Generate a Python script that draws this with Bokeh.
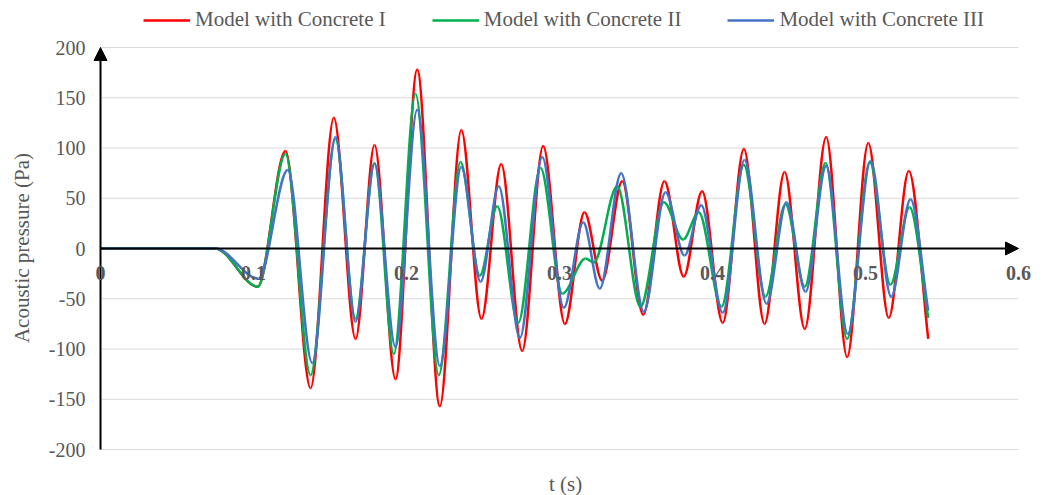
from bokeh.plotting import figure
from bokeh.models import (Range1d, FixedTicker, Legend, LegendItem, Arrow, NormalHead,
                          ColumnDataSource, LabelSet, Label)
from bokeh.embed import file_html
from bokeh.resources import INLINE

# ---------------- data ----------------
t_c1 = [0.0, 0.075, 0.1028, 0.1209, 0.1373, 0.1525, 0.1667, 0.1791, 0.1928, 0.2070,
        0.2218, 0.2358, 0.2490, 0.2619, 0.2756, 0.2893, 0.3035, 0.3163, 0.3279, 0.3410,
        0.3547, 0.3686, 0.3812, 0.3932, 0.4067, 0.4205, 0.4340, 0.4471, 0.4603, 0.4743,
        0.4880, 0.5018, 0.5152, 0.5283, 0.5410]
p_c1 = [0, 0, -38, 97, -139, 130, -90, 103, -130, 178,
        -157, 118, -70, 84, -102, 102, -75, 36, -32, 67,
        -66, 67, -28, 57, -74, 99, -75, 76, -80, 111,
        -108, 105, -69, 77, -90]

t_c2 = [0.0, 0.075, 0.1028, 0.1209, 0.1373, 0.1536, 0.1667, 0.1791, 0.1917, 0.2059,
        0.2211, 0.2353, 0.2479, 0.2593, 0.2730, 0.2876, 0.3018, 0.3170, 0.3224, 0.3377,
        0.3529, 0.3682, 0.3808, 0.3910, 0.4059, 0.4205, 0.4346, 0.4477, 0.4603, 0.4739,
        0.4880, 0.5028, 0.5163, 0.5288, 0.5410]
p_c2 = [0, 0, -38, 94, -126, 109, -70, 85, -105, 154,
        -126, 86, -27, 42, -74, 80, -45, -10, -14, 62,
        -58, 46, 9, 36, -58, 83, -48, 44, -38, 85,
        -90, 86, -36, 41, -69]

t_c3 = [0.0, 0.075, 0.1033, 0.1224, 0.1384, 0.1536, 0.1667, 0.1791, 0.1928, 0.2070,
        0.2218, 0.2358, 0.2484, 0.2603, 0.2741, 0.2887, 0.3028, 0.3155, 0.3263, 0.3403,
        0.3551, 0.3693, 0.3817, 0.3926, 0.4067, 0.4209, 0.4353, 0.4484, 0.4608, 0.4743,
        0.4884, 0.5033, 0.5168, 0.5294, 0.5410]
p_c3 = [0, 0, -30, 78, -114, 111, -73, 84, -98, 138,
        -117, 81, -33, 62, -89, 91, -59, 26, -40, 75,
        -63, 56, -7, 43, -64, 88, -55, 46, -43, 82,
        -85, 87, -48, 49, -62]

series_names = ["Model with Concrete I", "Model with Concrete II", "Model with Concrete III"]
series_colors = ["#FF0000", "#00B050", "#4472C4"]

x_ticks = [0.0, 0.1, 0.2, 0.3, 0.4, 0.5, 0.6]
x_tick_labels = ["0", "0.1", "0.2", "0.3", "0.4", "0.5", "0.6"]
y_ticks = [-200, -150, -100, -50, 0, 50, 100, 150, 200]
y_tick_labels = ["-200", "-150", "-100", "-50", "0", "50", "100", "150", "200"]
x_title = "t (s)"
y_title = "Acoustic pressure (Pa)"

X_MIN, X_MAX = 0.0, 0.6
Y_MIN, Y_MAX = -200, 200

FONT = "Liberation Serif"
TXT = "#595959"

# ---------------- layout (pixels) ----------------
W, H = 1045, 495
BORDER_LEFT = 92                 # room for the y tick labels and the y title
DATA_LEFT, DATA_RIGHT = 100, 1018
DATA_TOP, DATA_BOTTOM = 47, 449
sx = (DATA_RIGHT - DATA_LEFT) / (X_MAX - X_MIN)
sy = (DATA_BOTTOM - DATA_TOP) / (Y_MAX - Y_MIN)
x_lo = X_MIN - (DATA_LEFT - BORDER_LEFT) / sx
x_hi = X_MAX + (W - DATA_RIGHT) / sx
y_lo = Y_MIN - (H - DATA_BOTTOM) / sy
y_hi = Y_MAX + DATA_TOP / sy


def smooth_source(ts, vs):
    """Cubic Bezier segments through the data points (monotone tangents),
    like a spreadsheet 'smoothed line'."""
    n = len(ts)
    h = [ts[i + 1] - ts[i] for i in range(n - 1)]
    d = [(vs[i + 1] - vs[i]) / h[i] for i in range(n - 1)]
    m = [0.0] * n
    for i in range(1, n - 1):
        if d[i - 1] * d[i] <= 0:
            m[i] = 0.0
        else:
            w1 = 2 * h[i] + h[i - 1]
            w2 = h[i] + 2 * h[i - 1]
            m[i] = (w1 + w2) / (w1 / d[i - 1] + w2 / d[i])
    m[-1] = d[-1]
    src = dict(x0=[], y0=[], x1=[], y1=[], cx0=[], cy0=[], cx1=[], cy1=[])
    for i in range(n - 1):
        src["x0"].append(ts[i]); src["y0"].append(vs[i])
        src["x1"].append(ts[i + 1]); src["y1"].append(vs[i + 1])
        src["cx0"].append(ts[i] + h[i] / 3); src["cy0"].append(vs[i] + m[i] * h[i] / 3)
        src["cx1"].append(ts[i + 1] - h[i] / 3); src["cy1"].append(vs[i + 1] - m[i + 1] * h[i] / 3)
    return ColumnDataSource(src)


p = figure(width=W, height=H,
           x_range=Range1d(x_lo, x_hi), y_range=Range1d(y_lo, y_hi),
           x_axis_location=None,
           output_backend="svg", toolbar_location=None,
           min_border_left=BORDER_LEFT, min_border_right=0,
           min_border_top=0, min_border_bottom=0)
p.outline_line_color = None
p.background_fill_color = "white"
p.border_fill_color = "white"

# grid lines (only over the data area)
p.xgrid.visible = False
p.ygrid.visible = False
p.segment(x0=[X_MIN] * len(y_ticks), x1=[X_MAX] * len(y_ticks), y0=y_ticks, y1=y_ticks,
          line_color="#D9D9D9", line_width=1)

# y axis (labels only; the line is an arrow)
ya = p.yaxis[0]
ya.ticker = FixedTicker(ticks=y_ticks)
ya.major_label_overrides = {v: s for v, s in zip(y_ticks, y_tick_labels)}
ya.axis_line_color = None
ya.major_tick_line_color = None
ya.minor_tick_line_color = None
ya.major_tick_out = 0
ya.major_label_standoff = 7
ya.major_label_text_font = FONT
ya.major_label_text_font_size = "20px"
ya.major_label_text_color = TXT
ya.axis_label = y_title
ya.axis_label_text_font = FONT
ya.axis_label_text_font_size = "21px"
ya.axis_label_text_font_style = "normal"
ya.axis_label_text_color = TXT
ya.axis_label_standoff = 12

# axis arrows
p.add_layout(Arrow(end=NormalHead(size=13, fill_color="black", line_color="black"),
                   x_start=X_MIN, y_start=0, x_end=X_MAX, y_end=0,
                   line_color="black", line_width=2))
p.add_layout(Arrow(end=NormalHead(size=13, fill_color="black", line_color="black"),
                   x_start=X_MIN, y_start=Y_MIN, x_end=X_MIN, y_end=Y_MAX,
                   line_color="black", line_width=2))

# x tick labels on the zero line
lab_src = ColumnDataSource(dict(x=x_ticks, y=[0] * len(x_ticks), text=x_tick_labels))
p.add_layout(LabelSet(x="x", y="y", text="text", source=lab_src, text_align="center",
                      text_baseline="middle", y_offset=-24, text_font=FONT,
                      text_font_size="20px", text_font_style="bold", text_color=TXT))

# x title
p.add_layout(Label(x=(X_MIN + X_MAX) / 2, y=Y_MIN, x_offset=6, y_offset=-34, text=x_title,
                   text_align="center", text_baseline="middle", text_font=FONT,
                   text_font_size="21px", text_color=TXT))

# curves
renderers = []
for ts, vs, col in [(t_c1, p_c1, series_colors[0]), (t_c2, p_c2, series_colors[1]),
                    (t_c3, p_c3, series_colors[2])]:
    r = p.bezier(x0="x0", y0="y0", x1="x1", y1="y1", cx0="cx0", cy0="cy0", cx1="cx1", cy1="cy1",
                 source=smooth_source(ts, vs), line_color=col, line_width=2.5)
    renderers.append(r)

legend = Legend(items=[LegendItem(label=n, renderers=[r]) for n, r in zip(series_names, renderers)],
                orientation="horizontal", location=(51, 463), glyph_width=47, glyph_height=20,
                label_standoff=5, spacing=46, padding=0, margin=0,
                border_line_alpha=0, background_fill_alpha=0,
                label_text_font=FONT, label_text_font_size="21px", label_text_color=TXT)
p.add_layout(legend)

open("out.html", "w").write(file_html(p, INLINE))
